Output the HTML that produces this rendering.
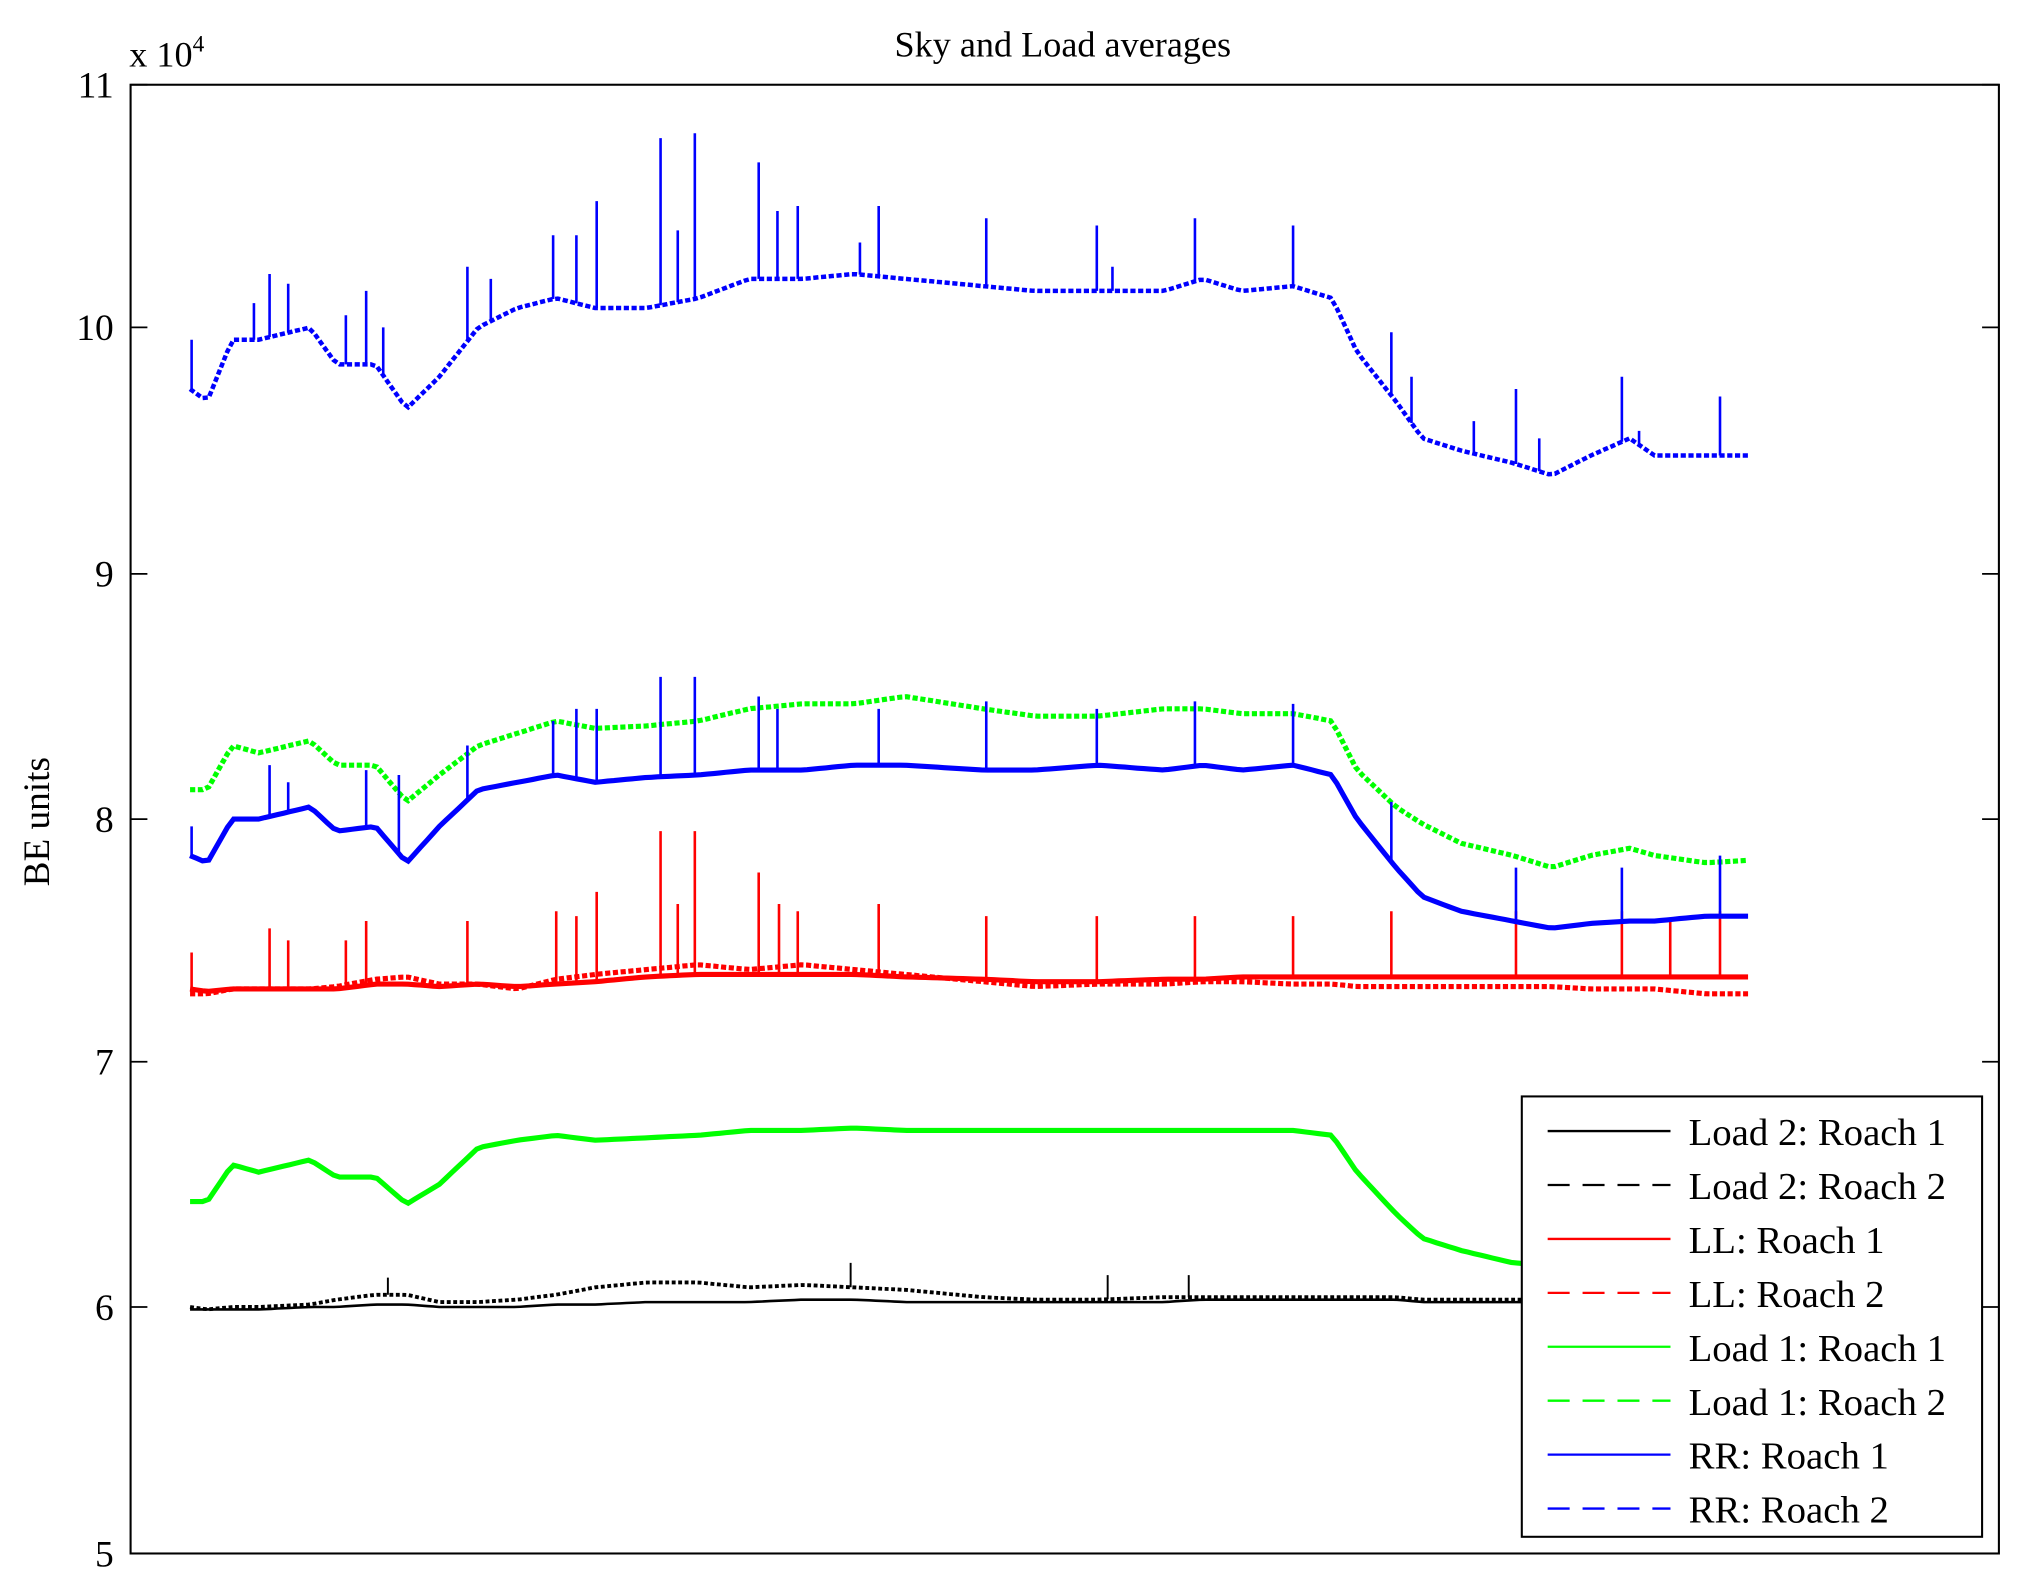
<!DOCTYPE html>
<html><head><meta charset="utf-8"><style>
html,body{margin:0;padding:0;background:#fff}
svg{display:block}
text{font-family:"Liberation Serif",serif;fill:#000}
</style></head><body>
<svg id="chart" width="2017" height="1592" viewBox="0 0 1560 1240" preserveAspectRatio="none" xmlns="http://www.w3.org/2000/svg">
<rect x="0" y="0" width="1560" height="1240" fill="#fff"/>
<text x="822" y="44" font-size="28" text-anchor="middle">Sky and Load averages</text>
<text x="100" y="52" font-size="28">x 10<tspan font-size="18" dy="-12">4</tspan></text>
<text transform="translate(38,640) rotate(-90)" font-size="29" text-anchor="middle">BE units</text>
<g id="ticks"></g>
<g id="series"></g>
<rect x="101" y="66" width="1445" height="1144" fill="none" stroke="#000" stroke-width="1.6"/>
<g id="legend"></g>
</svg>
<script>
const tPts=[0,11,27,44,77,94,119,139,160,185,210,235,260,293,326,359,393,426,459,509,542,583,625,650,675,708,733,749,774,791,816,849,874,899,924,940,973,1000];
const rr2=[9.75,9.7,9.95,9.95,10.0,9.85,9.85,9.67,9.8,10.0,10.08,10.12,10.08,10.08,10.12,10.2,10.2,10.22,10.2,10.17,10.15,10.15,10.15,10.2,10.15,10.17,10.12,9.9,9.7,9.55,9.5,9.45,9.4,9.48,9.55,9.48,9.48,9.48];
const rr1=[7.85,7.82,8.0,8.0,8.05,7.95,7.97,7.82,7.97,8.12,8.15,8.18,8.15,8.17,8.18,8.2,8.2,8.22,8.22,8.2,8.2,8.22,8.2,8.22,8.2,8.22,8.18,8.0,7.8,7.68,7.62,7.58,7.55,7.57,7.58,7.58,7.6,7.6];
const l1r2=[8.12,8.12,8.3,8.27,8.32,8.22,8.22,8.07,8.18,8.3,8.35,8.4,8.37,8.38,8.4,8.45,8.47,8.47,8.5,8.45,8.42,8.42,8.45,8.45,8.43,8.43,8.4,8.2,8.05,7.98,7.9,7.85,7.8,7.85,7.88,7.85,7.82,7.83];
const l1r1=[6.43,6.43,6.58,6.55,6.6,6.53,6.53,6.42,6.5,6.65,6.68,6.7,6.68,6.69,6.7,6.72,6.72,6.73,6.72,6.72,6.72,6.72,6.72,6.72,6.72,6.72,6.7,6.55,6.38,6.28,6.23,6.18,6.17,6.16,6.15,6.15,6.15,6.15];
const llr1=[7.3,7.29,7.3,7.3,7.3,7.3,7.32,7.32,7.31,7.32,7.31,7.32,7.33,7.35,7.36,7.36,7.36,7.36,7.35,7.34,7.33,7.33,7.34,7.34,7.35,7.35,7.35,7.35,7.35,7.35,7.35,7.35,7.35,7.35,7.35,7.35,7.35,7.35];
const llr2=[7.28,7.28,7.3,7.3,7.3,7.31,7.34,7.35,7.32,7.32,7.3,7.34,7.36,7.38,7.4,7.38,7.4,7.38,7.36,7.33,7.31,7.32,7.32,7.33,7.33,7.32,7.32,7.31,7.31,7.31,7.31,7.31,7.31,7.3,7.3,7.3,7.28,7.28];
const l2r1=[5.99,5.99,5.99,5.99,6.0,6.0,6.01,6.01,6.0,6.0,6.0,6.01,6.01,6.02,6.02,6.02,6.03,6.03,6.02,6.02,6.02,6.02,6.02,6.03,6.03,6.03,6.03,6.03,6.03,6.02,6.02,6.02,6.02,6.02,6.02,6.02,6.02,6.02];
const l2r2=[6.0,5.99,6.0,6.0,6.01,6.03,6.05,6.05,6.02,6.02,6.03,6.05,6.08,6.1,6.1,6.08,6.09,6.08,6.07,6.04,6.03,6.03,6.04,6.04,6.04,6.04,6.04,6.04,6.04,6.03,6.03,6.03,6.03,6.03,6.03,6.03,6.03,6.03];
const rr2SpikeT=[1,41,51,63,100,113,124,178,193,233,248,261,302,313,324,365,377,390,430,442,511,582,592,645,708,771,784,824,851,866,919,930,982];
const rr2SpikeV=[9.95,10.1,10.22,10.18,10.05,10.15,10.0,10.25,10.2,10.38,10.38,10.52,10.78,10.4,10.8,10.68,10.48,10.5,10.35,10.5,10.45,10.42,10.25,10.45,10.42,9.98,9.8,9.62,9.75,9.55,9.8,9.58,9.72];
const rr1SpikeT=[1,51,63,113,134,178,233,248,261,302,324,365,377,442,511,582,645,708,771,851,919,982];
const rr1SpikeV=[7.97,8.22,8.15,8.2,8.18,8.3,8.4,8.45,8.45,8.58,8.58,8.5,8.45,8.45,8.48,8.45,8.48,8.47,8.07,7.8,7.8,7.85];
const llSpikeT=[1,51,63,100,113,178,235,248,261,302,313,324,365,378,390,442,511,582,645,708,771,851,919,950,982];
const llSpikeV=[7.45,7.55,7.5,7.5,7.58,7.58,7.62,7.6,7.7,7.95,7.65,7.95,7.78,7.65,7.62,7.65,7.6,7.6,7.6,7.6,7.62,7.62,7.62,7.58,7.62];
const l2SpikeT=[127,424,589,641];
const l2SpikeV=[6.12,6.18,6.13,6.13];
const yTicks=[5,6,7,8,9,10,11];
const yTickPos=[1210,1018,827,638,447,255,66];
const legendLabels=["Load 2: Roach 1","Load 2: Roach 2","LL: Roach 1","LL: Roach 2","Load 1: Roach 1","Load 1: Roach 2","RR: Roach 1","RR: Roach 2"];

const NS="http://www.w3.org/2000/svg";
function xS(t){return 147+t*1.205;}
function yS(v){
  for(let i=0;i<yTicks.length-1;i++){if(v<=yTicks[i+1]||i===yTicks.length-2){const f=(v-yTicks[i])/(yTicks[i+1]-yTicks[i]);return yTickPos[i]+f*(yTickPos[i+1]-yTickPos[i]);}}
}
function interp(vals,t){for(let i=0;i<tPts.length-1;i++){if(t<=tPts[i+1]){const f=(t-tPts[i])/(tPts[i+1]-tPts[i]);return vals[i]+f*(vals[i+1]-vals[i]);}}return vals[vals.length-1];}
const gT=document.getElementById('ticks');
yTicks.forEach((v,i)=>{
  const y=yS(v);
  const tx=document.createElementNS(NS,'text');
  
  
  tx.setAttribute('x',88);tx.setAttribute('y',y+10);tx.setAttribute('font-size','29');tx.setAttribute('text-anchor','end');
  tx.textContent=v;gT.appendChild(tx);
  const l=document.createElementNS(NS,'path');
  
  
  l.setAttribute('d',`M101 ${y}H114M1546 ${y}H1533`);l.setAttribute('stroke','#000');l.setAttribute('stroke-width','1.4');
  gT.appendChild(l);
});
const gS=document.getElementById('series');
function drawSeries(name,vals,color,dash,w){
  let d='';
  for(let t=0;t<=1000;t+=4){const x=xS(t),y=yS(interp(vals,t));d+=(t===0?'M':'L')+x.toFixed(1)+' '+y.toFixed(1);}
  const p=document.createElementNS(NS,'path');
  
  
  p.setAttribute('d',d);p.setAttribute('fill','none');p.setAttribute('stroke',color);p.setAttribute('stroke-width',w);
  if(dash)p.setAttribute('stroke-dasharray',dash);
  gS.appendChild(p);
}
function drawSpikes(name,ts,vs,base,color,w){
  let d='';
  ts.forEach((t,i)=>{const x=xS(t);d+=`M${x.toFixed(1)} ${yS(interp(base,t)).toFixed(1)}V${yS(vs[i]).toFixed(1)}`;});
  const p=document.createElementNS(NS,'path');
  
  
  p.setAttribute('d',d);p.setAttribute('stroke',color);p.setAttribute('stroke-width',w);p.setAttribute('fill','none');
  gS.appendChild(p);
}
drawSeries('series-load2-roach2',l2r2,'#000','3 2',3);
drawSeries('series-load2-roach1',l2r1,'#000',null,2);
drawSpikes('spikes-load2',l2SpikeT,l2SpikeV,l2r2,'#000',1.5);
drawSeries('series-ll-roach2',llr2,'#f00','4 2',4);
drawSeries('series-ll-roach1',llr1,'#f00',null,4);
drawSpikes('spikes-ll',llSpikeT,llSpikeV,llr1,'#f00',2);
drawSeries('series-load1-roach1',l1r1,'#0f0',null,4);
drawSeries('series-load1-roach2',l1r2,'#0f0','4 2',4);
drawSeries('series-rr-roach1',rr1,'#00f',null,4);
drawSpikes('spikes-rr-roach1',rr1SpikeT,rr1SpikeV,rr1,'#00f',2);
drawSeries('series-rr-roach2',rr2,'#00f','4 2',3.5);
drawSpikes('spikes-rr-roach2',rr2SpikeT,rr2SpikeV,rr2,'#00f',2);
const gL=document.getElementById('legend');
const colors=['#000','#000','#f00','#f00','#0f0','#0f0','#00f','#00f'];
const bg=document.createElementNS(NS,'rect');


bg.setAttribute('x',1177);bg.setAttribute('y',854);bg.setAttribute('width',356);bg.setAttribute('height',343);bg.setAttribute('fill','#fff');bg.setAttribute('stroke','#000');bg.setAttribute('stroke-width','1.6');
gL.appendChild(bg);
legendLabels.forEach((lab,i)=>{
  const y=881+i*42;
  const g=document.createElementNS(NS,'g');
  
  
  const l=document.createElementNS(NS,'line');
  l.setAttribute('x1',1197);l.setAttribute('x2',1292);l.setAttribute('y1',y);l.setAttribute('y2',y);l.setAttribute('stroke',colors[i]);l.setAttribute('stroke-width','1.8');
  if(i%2===1)l.setAttribute('stroke-dasharray','17 10');
  g.appendChild(l);
  const tx=document.createElementNS(NS,'text');
  tx.setAttribute('x',1306);tx.setAttribute('y',y+11);tx.setAttribute('font-size','30');tx.textContent=lab;
  g.appendChild(tx);
  gL.appendChild(g);
});
</script>
</body></html>
